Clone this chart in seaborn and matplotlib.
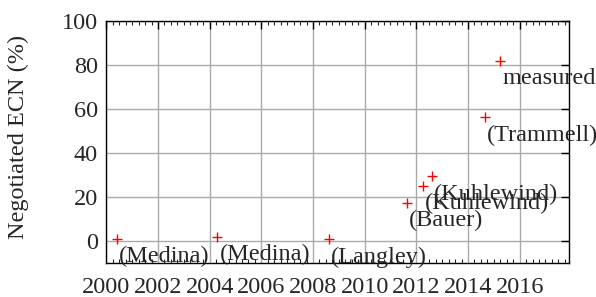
import matplotlib
matplotlib.use("Agg")
import matplotlib.pyplot as plt
from matplotlib.ticker import MultipleLocator
import seaborn as sns
import pandas as pd

# deployment data points
years = [2000.4, 2004.3, 2008.6, 2011.65, 2012.25, 2012.6, 2014.65, 2015.25]
ecn = [0.8, 1.8, 0.8, 17.2, 25.0, 29.2, 56.0, 81.7]
labels = ['(Medina)', '(Medina)', '(Langley)', '(Bauer)', '(Kuhlewind)',
          '(Kuhlewind)', '(Trammell)', 'measured']
x_ticks = list(range(2000, 2017, 2))
y_ticks = [0, 20, 40, 60, 80, 100]

df = pd.DataFrame({'year': years, 'ecn': ecn, 'label': labels})

sns.set_style('white')
plt.rcParams['font.family'] = ['Liberation Serif', 'DejaVu Serif']

fig = plt.figure(figsize=(5.96, 2.97), dpi=100)
ax = fig.add_axes([0.1785, 0.1155, 0.9542 - 0.1785, 0.9303 - 0.1155])

sns.scatterplot(data=df, x='year', y='ecn', ax=ax, marker='+', color='red',
                s=50, linewidth=1.0, zorder=3)

# labels offset right and below each point
for _, row in df.iterrows():
    ax.annotate(row['label'], (row['year'], row['ecn']), xytext=(2, -18),
                textcoords='offset pixels', ha='left', va='center',
                fontsize=17.5, annotation_clip=False, zorder=4)

ax.set_xlim(2000, 2017.9)
ax.set_ylim(-10, 100)
ax.set_xticks(x_ticks)
ax.set_yticks(y_ticks)
ax.xaxis.set_minor_locator(MultipleLocator(0.25))

ax.grid(True, which='major', color='#aaaaaa', linewidth=1.0)
ax.set_axisbelow(True)

for s in ax.spines.values():
    s.set_color('black')
    s.set_linewidth(1.0)

ax.tick_params(axis='both', which='major', direction='in', length=6,
               width=1, top=True, right=True, labelsize=17.5, color='black')
ax.tick_params(axis='x', which='major', pad=10)
ax.tick_params(axis='y', which='major', pad=6)
ax.tick_params(axis='x', which='minor', direction='in', length=3,
               width=0.8, top=True, bottom=True)

ax.set_xlabel('')
ax.set_ylabel('Negotiated ECN (%)', fontsize=17.5)
ax.yaxis.set_label_coords(-0.167, 0.52)

fig.savefig('out.png', dpi=100)
